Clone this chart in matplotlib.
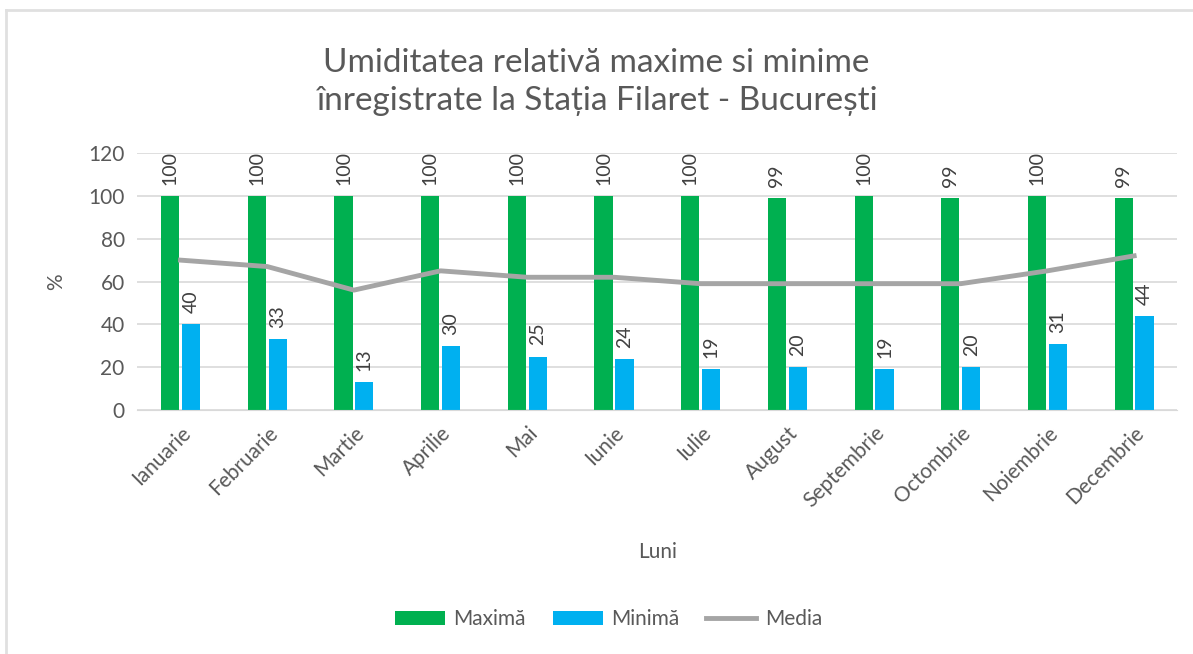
import numpy as np
import matplotlib.pyplot as plt
from matplotlib.lines import Line2D

plt.rcParams['font.family'] = ['Lato', 'DejaVu Sans']

luni = ['Ianuarie', 'Februarie', 'Martie', 'Aprilie', 'Mai', 'Iunie',
        'Iulie', 'August', 'Septembrie', 'Octombrie', 'Noiembrie', 'Decembrie']
maxima = [100, 100, 100, 100, 100, 100, 100, 99, 100, 99, 100, 99]
minima = [40, 33, 13, 30, 25, 24, 19, 20, 19, 20, 31, 44]
media = [70, 67, 56, 65, 62, 62, 59, 59, 59, 59, 65, 72]

text_col = '#595959'
x = np.arange(len(luni))
w = 0.21

fig = plt.figure(figsize=(11.93, 6.54), dpi=100)
ax = fig.add_axes([0.115, 0.373, 0.872, 0.393])

bars_max = ax.bar(x - 0.12, maxima, w, color='#00B050', label='Maximă', zorder=2)
bars_min = ax.bar(x + 0.12, minima, w, color='#00B0F0', label='Minimă', zorder=2)
line_med, = ax.plot(x, media, color='#A5A5A5', lw=3.5, label='Media', zorder=3)

# etichete valori, rotite vertical
for bars, vals in [(bars_max, maxima), (bars_min, minima)]:
    for b, v in zip(bars, vals):
        ax.annotate(str(v), (b.get_x() + b.get_width() / 2, v), xytext=(0, 8),
                    textcoords='offset points', rotation=90, ha='center', va='bottom',
                    fontsize=14, color='#404040')

ax.set_xlim(-0.5, len(luni) - 0.5)
ax.set_ylim(0, 120)
ax.set_yticks(range(0, 121, 20))
ax.grid(axis='y', color='#D9D9D9', lw=1.2, zorder=0)
ax.set_axisbelow(True)
for s in ['top', 'right', 'left']:
    ax.spines[s].set_visible(False)
ax.spines['bottom'].set_color('#D9D9D9')
ax.tick_params(axis='both', length=0, labelsize=15, colors=text_col, pad=9)
ax.set_xticks(x)
ax.set_xticklabels(luni, rotation=45, ha='right', rotation_mode='anchor')
ax.set_ylabel('%', fontsize=15, color=text_col, labelpad=16)
ax.set_xlabel('Luni', fontsize=15, color=text_col, labelpad=22)

fig.text(0.5, 0.875, 'Umiditatea relativă maxime si minime\nînregistrate la Stația Filaret - București',
         ha='center', va='center', fontsize=24, color=text_col, linespacing=1.35)

fig.legend([bars_max, bars_min, line_med], ['Maximă', 'Minimă', 'Media'],
           loc='center', bbox_to_anchor=(0.51, 0.053), ncol=3, frameon=False,
           fontsize=15, labelcolor=text_col, handlelength=2.4, handleheight=0.6,
           columnspacing=1.3, handletextpad=0.4)

# rama graficului
fig.add_artist(Line2D([0.005, 0.005], [0, 0.985], color='#E0E0E0', lw=2))
fig.add_artist(Line2D([0.005, 1.0], [0.985, 0.985], color='#E0E0E0', lw=2))

fig.savefig('out.png', dpi=100)
